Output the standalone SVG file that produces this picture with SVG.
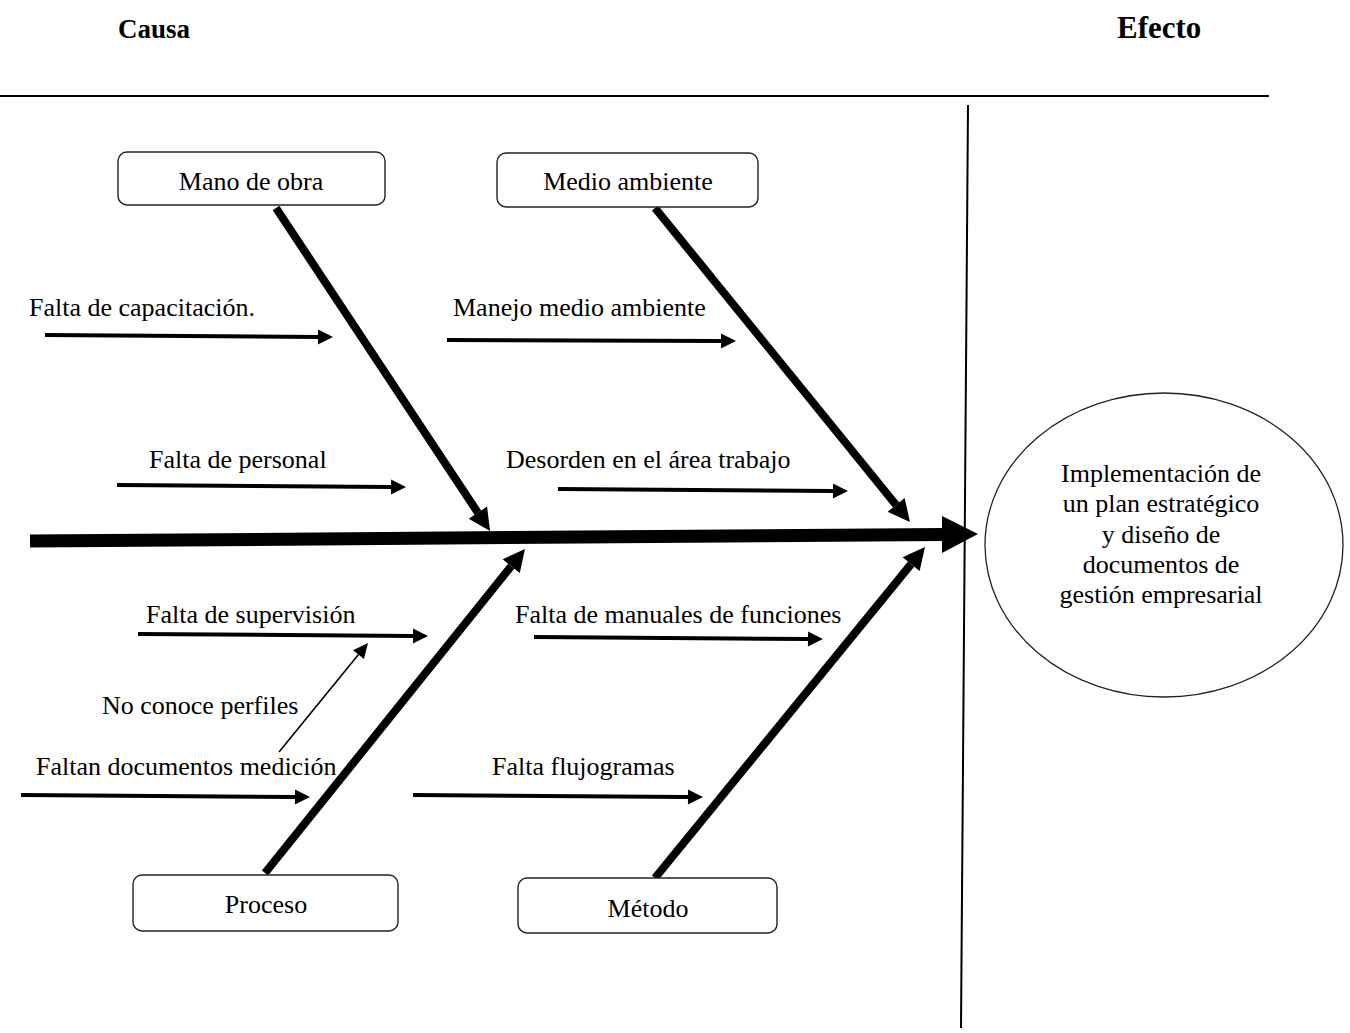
<svg xmlns="http://www.w3.org/2000/svg" width="1350" height="1033" viewBox="0 0 1350 1033">
  <style>
    .t { font-family: "Liberation Serif", "Times New Roman", Times, serif; font-size: 26px; fill: #000; }
    .title { font-weight: bold; }
    .mid { text-anchor: middle; }
    .box { fill: #fff; stroke: #222; stroke-width: 1.4; }
    .rule { stroke: #000; stroke-width: 2; fill: none; }
    .bone { stroke: #000; stroke-width: 8; fill: none; marker-end: url(#headBig); }
    .cause { stroke: #000; stroke-width: 4; fill: none; marker-end: url(#headSmall); }
    .sub { stroke: #000; stroke-width: 1.6; fill: none; marker-end: url(#headThin); }
  </style>
  <defs>
    <marker id="headBig" markerUnits="userSpaceOnUse" orient="auto" refX="0" refY="0" markerWidth="30" markerHeight="30" viewBox="0 -15 30 30" overflow="visible">
      <path d="M0,-11 L22,0 L0,11 z" fill="#000"/>
    </marker>
    <marker id="headSmall" markerUnits="userSpaceOnUse" orient="auto" refX="0" refY="0" markerWidth="20" markerHeight="20" viewBox="0 -10 20 20" overflow="visible">
      <path d="M0,-7.5 L15,0 L0,7.5 z" fill="#000"/>
    </marker>
    <marker id="headThin" markerUnits="userSpaceOnUse" orient="auto" refX="0" refY="0" markerWidth="20" markerHeight="20" viewBox="0 -10 20 20" overflow="visible">
      <path d="M0,-7 L15,0 L0,7 z" fill="#000"/>
    </marker>
  </defs>

  <rect width="1350" height="1033" fill="#fff"/>

  <!-- headings and frame -->
  <text class="t title" x="118" y="38" font-size="27" style="font-size:27px">Causa</text>
  <text class="t title" x="1117" y="38" style="font-size:31px">Efecto</text>
  <line class="rule" x1="0" y1="96" x2="1269" y2="96"/>
  <line class="rule" x1="968" y1="105" x2="961" y2="1028"/>

  <g id="connectors">
    <!-- spine -->
    <line x1="30" y1="541" x2="944" y2="534.5" stroke="#000" stroke-width="13"/>
    <polygon points="942,516 978,534 942,553" fill="#000"/>
    <!-- main bones (lines end at arrowhead base) -->
    <line class="bone" x1="276" y1="208" x2="477.9" y2="512.7"/>
    <line class="bone" x1="655" y1="208" x2="896.1" y2="504.9"/>
    <line class="bone" x1="265" y1="873" x2="511.2" y2="566.2"/>
    <line class="bone" x1="655" y1="878" x2="911.1" y2="564.1"/>
    <!-- cause arrows -->
    <line class="cause" x1="45" y1="335" x2="318" y2="337"/>
    <line class="cause" x1="117" y1="485" x2="391" y2="487"/>
    <line class="cause" x1="447" y1="340" x2="721" y2="341"/>
    <line class="cause" x1="558" y1="489" x2="833" y2="491"/>
    <line class="cause" x1="138" y1="634" x2="413" y2="636"/>
    <line class="cause" x1="534" y1="637" x2="808" y2="639"/>
    <line class="cause" x1="21" y1="795" x2="295" y2="797"/>
    <line class="cause" x1="413" y1="795" x2="688" y2="797"/>
    <line class="sub" x1="279" y1="752" x2="358.5" y2="654.6"/>
  </g>

  <g id="mano-de-obra">
    <rect class="box" x="118" y="152" width="267" height="53" rx="9"/>
    <text class="t mid" x="251" y="190">Mano de obra</text>
  </g>
  <g id="medio-ambiente">
    <rect class="box" x="497" y="153" width="261" height="54" rx="9"/>
    <text class="t mid" x="628" y="190">Medio ambiente</text>
  </g>
  <g id="proceso">
    <rect class="box" x="133" y="875" width="265" height="56" rx="9"/>
    <text class="t mid" x="266" y="913">Proceso</text>
  </g>
  <g id="metodo">
    <rect class="box" x="518" y="878" width="259" height="55" rx="9"/>
    <text class="t mid" x="648" y="917">Método</text>
  </g>

  <g id="efecto">
    <ellipse cx="1164" cy="545" rx="179" ry="152" fill="#fff" stroke="#222" stroke-width="1.3"/>
    <text class="t mid" x="1161" y="482">Implementación de</text>
    <text class="t mid" x="1161" y="512">un plan estratégico</text>
    <text class="t mid" x="1161" y="543">y diseño de</text>
    <text class="t mid" x="1161" y="573">documentos de</text>
    <text class="t mid" x="1161" y="603">gestión empresarial</text>
  </g>

  <g id="causas">
    <text class="t" x="29" y="316">Falta de capacitación.</text>
    <text class="t" x="149" y="468">Falta de personal</text>
    <text class="t" x="453" y="316">Manejo medio ambiente</text>
    <text class="t" x="506" y="468">Desorden en el área trabajo</text>
    <text class="t" x="146" y="623">Falta de supervisión</text>
    <text class="t" x="515" y="623">Falta de manuales de funciones</text>
    <text class="t" x="102" y="714">No conoce perfiles</text>
    <text class="t" x="36" y="775">Faltan documentos medición</text>
    <text class="t" x="492" y="775">Falta flujogramas</text>
  </g>
</svg>
